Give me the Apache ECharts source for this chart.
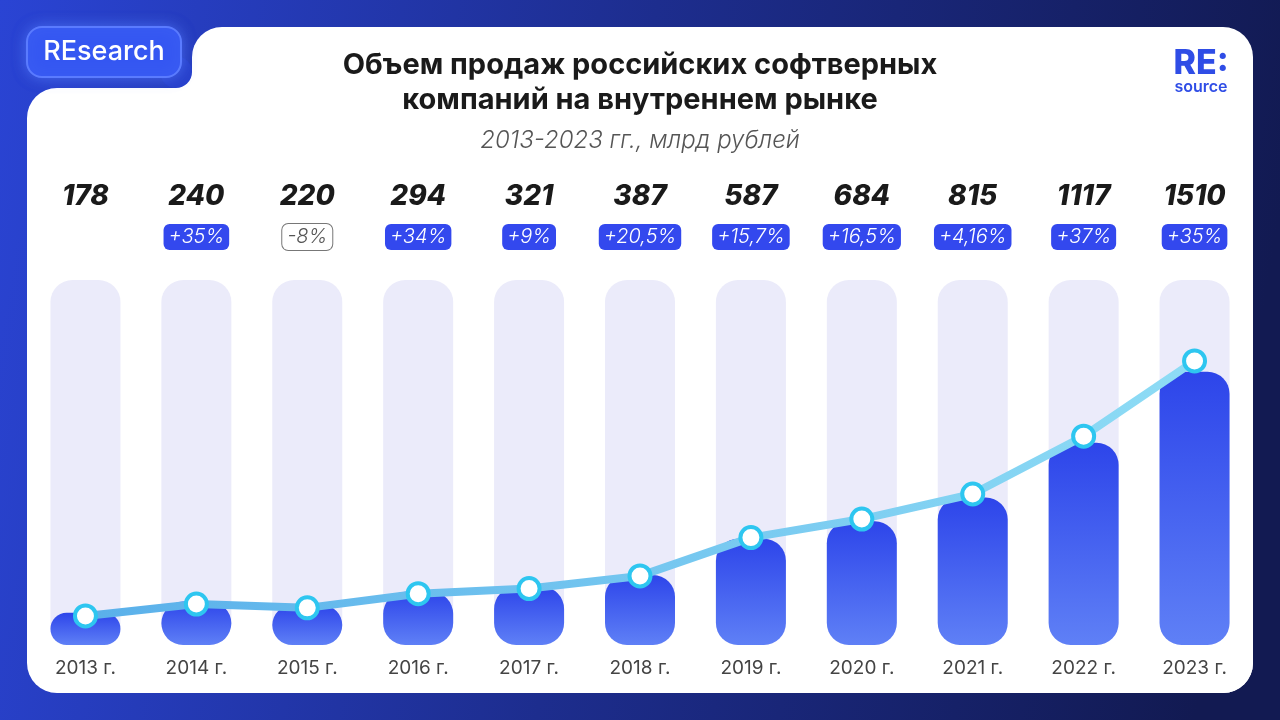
<!DOCTYPE html>
<html><head><meta charset="utf-8">
<script src="https://cdn.jsdelivr.net/npm/echarts@6/dist/echarts.min.js"></script>
<style>html,body{margin:0;padding:0;background:#1b2670;}#c{width:1280px;height:720px;}</style>
</head><body><div id="c"></div>
<script>
const categories = ['2013 г.','2014 г.','2015 г.','2016 г.','2017 г.','2018 г.','2019 г.','2020 г.','2021 г.','2022 г.','2023 г.'];
const values = [178, 240, 220, 294, 321, 387, 587, 684, 815, 1117, 1510];
const growthLabels = ['', '+35%', '-8%', '+34%', '+9%', '+20,5%', '+15,7%', '+16,5%', '+4,16%', '+37%', '+35%'];
const titleText = 'Объем продаж российских софтверных\nкомпаний на внутреннем рынке';
const subtitleText = '2013-2023 гг., млрд рублей';

const FONT = 'Inter, "Noto Sans", sans-serif';
const chart = echarts.init(document.getElementById('c'));

function lin(x2, y2, stops) {
  return {type: 'linear', x: 0, y: 0, x2: x2, y2: y2,
    colorStops: stops.map(function (s) { return {offset: s[0], color: s[1]}; })};
}

const option = {
  backgroundColor: lin(1, 0.3, [[0, '#2a44d4'], [0.5, '#1d2d8e'], [1, '#121a52']]),
  animation: false,
  graphic: [
    {type: 'rect', z: -10, shape: {x: 192, y: 27, width: 1061, height: 666, r: 30}, style: {fill: '#ffffff'}},
    {type: 'rect', z: -10, shape: {x: 27, y: 88, width: 1226, height: 605, r: 30}, style: {fill: '#ffffff'}},
    {type: 'rect', z: -10, shape: {x: 176, y: 72, width: 20, height: 20}, style: {fill: '#ffffff'}},
    {type: 'circle', z: -9, shape: {cx: 176, cy: 72, r: 16}, style: {fill: '#2841cc'}},
    {type: 'rect', z: -5, shape: {x: 27, y: 27, width: 154, height: 50, r: 15},
      style: {fill: '#3557f2', stroke: '#5a7bff', lineWidth: 2, shadowBlur: 14, shadowColor: 'rgba(90,130,255,0.6)'}},
    {type: 'text', z: 5, x: 104, y: 52, style: {text: 'REsearch', fill: '#ffffff', font: '500 27px ' + FONT, textAlign: 'center', textVerticalAlign: 'middle'}},
    {type: 'text', z: 5, x: 1201, y: 64, style: {text: 'RE:', fill: '#2f4de6', font: '800 34px ' + FONT, textAlign: 'center', textVerticalAlign: 'middle'}},
    {type: 'text', z: 5, x: 1201, y: 87, style: {text: 'source', fill: '#2f4de6', font: '600 16px ' + FONT, textAlign: 'center', textVerticalAlign: 'middle'}},
    {type: 'text', z: 5, x: 640, y: 83, style: {text: titleText, fill: '#1a1a1a', font: '700 29px ' + FONT, textAlign: 'center', textVerticalAlign: 'middle', lineHeight: 35}},
    {type: 'text', z: 5, x: 640, y: 141, style: {text: subtitleText, fill: '#555555', font: 'italic 300 24px ' + FONT, textAlign: 'center', textVerticalAlign: 'middle'}}
  ],
  grid: {left: 30, right: 30, top: 280, bottom: 75},
  xAxis: [
    {type: 'category', data: categories, position: 'bottom',
      axisLine: {show: false}, axisTick: {show: false},
      axisLabel: {color: '#444444', fontSize: 19, fontFamily: FONT, margin: 14}},
    {type: 'category', data: categories, position: 'top', offset: 30,
      axisLine: {show: false}, axisTick: {show: false},
      axisLabel: {margin: 0, formatter: function (v, i) {
        const g = growthLabels[i];
        if (!g) return '';
        return g.charAt(0) === '-' ? '{dn|' + g + '}' : '{up|' + g + '}';
      }, rich: {
        up: {color: '#ffffff', backgroundColor: '#3348ee', borderRadius: 6, padding: [3, 5, 3, 5], fontSize: 20, fontStyle: 'italic', fontWeight: 300, fontFamily: FONT},
        dn: {color: '#555555', backgroundColor: '#ffffff', borderColor: '#777777', borderWidth: 1, borderRadius: 6, padding: [3, 5, 3, 5], fontSize: 20, fontStyle: 'italic', fontWeight: 300, fontFamily: FONT}
      }}},
    {type: 'category', data: categories, position: 'top', offset: 69,
      axisLine: {show: false}, axisTick: {show: false},
      axisLabel: {margin: 0, color: '#1a1a1a', fontSize: 28, fontWeight: 800, fontStyle: 'italic', fontFamily: FONT,
        formatter: function (v, i) { return String(values[i]); }}}
  ],
  yAxis: [
    {type: 'value', min: 0, max: 2017, show: false, splitLine: {show: false}},
    {type: 'value', min: 26, max: 1933, show: false, splitLine: {show: false}}
  ],
  series: [
    {type: 'bar', data: values, barWidth: 70, xAxisIndex: 0, yAxisIndex: 0,
      showBackground: true,
      backgroundStyle: {color: '#ebebfa', borderRadius: 22},
      itemStyle: {borderRadius: 22, color: lin(0, 1, [[0, '#2d45ea'], [1, '#5f80f6']])}},
    {type: 'line', data: values, xAxisIndex: 0, yAxisIndex: 1, z: 5,
      symbol: 'circle', symbolSize: 21,
      lineStyle: {width: 8, color: lin(1, 0, [[0, '#5ab0ea'], [1, '#8edcf5']])},
      itemStyle: {color: '#ffffff', borderColor: '#2ec6f0', borderWidth: 4}}
  ]
};
chart.setOption(option);
</script></body></html>
